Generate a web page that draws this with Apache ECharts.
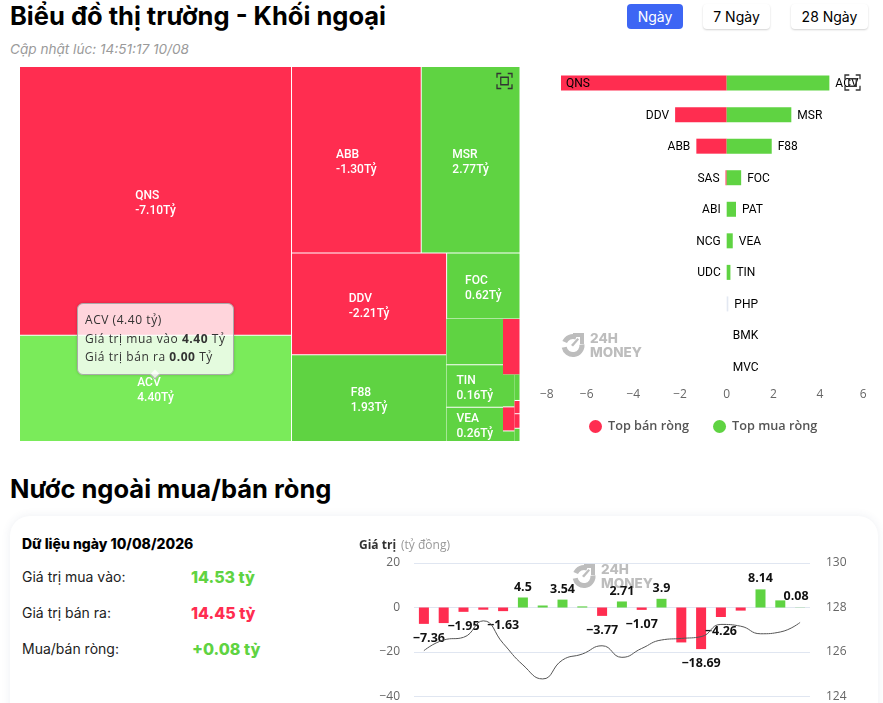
<!DOCTYPE html>
<html lang="vi"><head><meta charset="utf-8">
<style>
html,body{margin:0;padding:0;width:883px;height:703px;overflow:hidden;background:#fff;font-family:Inter,sans-serif;color:#000}
.abs{position:absolute}
h1{position:absolute;margin:0;font:700 25.5px/32px Inter,sans-serif;left:10px;white-space:nowrap}
.btn{position:absolute;top:4px;height:25px;line-height:25px;text-align:center;font-size:14px;border-radius:4px;background:#fff;box-shadow:0 1px 2px rgba(0,0,0,.18);box-sizing:border-box}
.btn.on{background:#3d66f4;color:#fff;box-shadow:none}
.card{position:absolute;left:10px;top:516px;width:868px;height:300px;border-radius:20px;background:#fff;box-shadow:0 0 10px rgba(60,80,120,.09)}
.row{position:absolute;left:22px;font-size:14px;color:#222;line-height:18px}
.val{position:absolute;font-size:16px;font-weight:800;line-height:20px}
</style></head>
<body>
<h1 style="top:0">Biểu đồ thị trường - Khối ngoại</h1>
<div class="abs" style="left:10px;top:40px;font-size:13.6px;font-style:italic;color:#9a9a9a;line-height:18px">Cập nhật lúc: 14:51:17 10/08</div>
<div class="btn on" style="left:627px;width:56px">Ngày</div>
<div class="btn" style="left:703px;width:67px">7 Ngày</div>
<div class="btn" style="left:791px;width:77px">28 Ngày</div>
<div id="tree" class="abs" style="left:20px;top:67px;width:500px;height:375px"></div>
<div id="bars" class="abs" style="left:530px;top:60px;width:353px;height:390px"></div>
<h1 style="top:473px">Nước ngoài mua/bán ròng</h1>
<div class="card"></div>
<div class="abs" style="left:22px;top:535px;font-size:14px;font-weight:800;line-height:18px">Dữ liệu ngày 10/08/2026</div>
<div class="row" style="top:568px">Giá trị mua vào:</div>
<div class="val" style="left:191px;top:567px;color:#5fd342">14.53 tỷ</div>
<div class="row" style="top:604px">Giá trị bán ra:</div>
<div class="val" style="left:191px;top:603px;color:#ff2d50">14.45 tỷ</div>
<div class="row" style="top:640px">Mua/bán ròng:</div>
<div class="val" style="left:192px;top:639px;color:#5fd342">+0.08 tỷ</div>
<div id="flow" class="abs" style="left:350px;top:530px;width:530px;height:200px"></div>
<script src="https://cdn.jsdelivr.net/npm/echarts@6/dist/echarts.min.js"></script>
<script>
// ---- Treemap data: size = gross traded value (tỷ), net = net value shown in the label
const treeNames = ['QNS','ACV','ABB','MSR','DDV','F88','FOC','rest'];
const treeSizes = [11.15,4.41,3.69,2.81,2.41,2.05,0.74,1.37];
const treeNets  = [-7.10,4.40,-1.30,2.77,-2.21,1.93,0.62,null];
const col1Names = ['PAT','TIN','VEA'];
const col1Sizes = [0.39,0.36,0.29];
const col1Nets  = [null,0.16,0.26];
const col2Names = ['SAS'];
const col2Sizes = [0.143];
const col2Nets  = [-0.05];
const col3Names = ['PHP','ABI','BMK'];
const col3Sizes = [0.056,0.041,0.018];
const col3Nets  = [0.07,-0.01,0.01];
const col4Names = ['MVC','NCG','UDC','KHA'];
const col4Sizes = [0.020,0.010,0.011,0.010];
const col4Nets  = [0.01,-0.01,-0.01,0.01];
// ---- Diverging bars
const sellNames = ['QNS','DDV','ABB','SAS','ABI','NCG','UDC','','',''];
const sellVals  = [-7.10,-2.21,-1.30,-0.05,0,0,0,0,0,0];
const buyNames  = ['ACV','MSR','F88','FOC','PAT','VEA','TIN','PHP','BMK','MVC'];
const buyVals   = [4.40,2.77,1.93,0.62,0.40,0.26,0.16,0.07,0,0];
// ---- Net flow chart
const flowDays = ['1','2','3','4','5','6','7','8','9','10','11','12','13','14','15','16','17','18','19','20'];
const flowNet = [-7.36,-7.0,-1.95,-1.0,-1.63,4.5,0.9,3.54,0.5,-3.77,2.71,-1.07,3.9,-15.7,-18.69,-4.26,-1.4,8.14,3.2,0.08];
const flowLabelled = [0,2,4,5,7,9,10,11,12,14,15,17,19];
const flowPrice = [126.06,126.54,126.66,127.4,126.39,125.42,124.79,125.64,125.91,126.28,125.76,126.16,126.54,126.61,126.69,127.24,127.16,126.82,126.9,127.33];

const RED='#ff2d50', GREEN='#5fd342', HOVER='#7aeb5a';
const LABEL_FONT='Roboto, sans-serif';
const FOCUS_ICON='path://M1,5 V1 H5 M11,1 H15 V5 M15,11 V15 H11 M5,15 H1 V11 M4.5,4.5 H11.5 V11.5 H4.5 Z';
const minusAxis=v=>String(v).replace('-','−');

const measure=document.createElement('canvas').getContext('2d');
measure.font='500 12px '+LABEL_FONT;
function cellLabel(name,net,labelled){
  if(!labelled||net==null) return {show:false};
  const line2=net.toFixed(2)+'Tỷ';
  const w=Math.max(measure.measureText(name).width,measure.measureText(line2).width);
  return {show:true,formatter:name+'\n'+line2,align:'left',verticalAlign:'top',offset:[-w/2,-12.5],
    color:'#fff',fontSize:12,lineHeight:15,fontFamily:LABEL_FONT,fontWeight:500};
}
function cell(name,size,net,labelled){
  const hidden = name==='rest';
  return {name:name,value:size,net:net,
    itemStyle:{color:hidden?'rgba(0,0,0,0)':(name==='ACV'?HOVER:(net<0?RED:GREEN))},
    label:cellLabel(name,net,labelled)};
}
const baseTree={type:'treemap',roam:false,nodeClick:false,breadcrumb:{show:false},sort:false,
  levels:[{itemStyle:{gapWidth:1,borderWidth:0}}],visibleMin:1,
  label:{show:true,position:'inside',padding:0,overflow:'none'}};
function build(names,sizes,nets,labelled){return names.map((n,i)=>cell(n,sizes[i],nets[i],labelled));}
const tree=echarts.init(document.getElementById('tree'));
tree.setOption({animation:false,
  tooltip:{trigger:'item',position:'top',alwaysShowContent:true,transitionDuration:0,
    backgroundColor:'rgba(255,255,255,0.8)',borderColor:'#aaa',borderWidth:1,padding:[7,7],
    textStyle:{color:'#333',fontSize:12,fontFamily:'"Open Sans",sans-serif',lineHeight:18},
    extraCssText:'border-radius:6px;letter-spacing:.55px;box-shadow:0 0 3px rgba(0,0,0,.2);line-height:18.5px;margin-top:49px',
    formatter:p=>p.name==='ACV'?'ACV (4.40 tỷ)<br>Giá trị mua vào <b>4.40</b> Tỷ<br>Giá trị bán ra <b>0.00</b> Tỷ':''},
  toolbox:{right:-9.5,top:-11,itemSize:15,iconStyle:{borderColor:'#333',borderWidth:1.3},feature:{myFocus:{show:true,title:'',icon:FOCUS_ICON,onclick:function(){}}}},
  series:[
   Object.assign({},baseTree,{left:0,top:0,width:499.5,height:374,data:build(treeNames,treeSizes,treeNets,true)}),
   Object.assign({},baseTree,{left:426.5,top:252,width:56.5,height:122,squareRatio:0.01,silent:true,tooltip:{show:false},data:build(col1Names,col1Sizes,col1Nets,true)}),
   Object.assign({},baseTree,{left:483,top:252,width:16.5,height:55.5,squareRatio:0.01,silent:true,tooltip:{show:false},data:build(col2Names,col2Sizes,col2Nets,false)}),
   Object.assign({},baseTree,{left:483,top:307.5,width:11.5,height:66.5,squareRatio:0.01,silent:true,tooltip:{show:false},data:build(col3Names,col3Sizes,col3Nets,false)}),
   Object.assign({},baseTree,{left:494.5,top:307.5,width:5,height:66.5,squareRatio:0.01,silent:true,tooltip:{show:false},data:build(col4Names,col4Sizes,col4Nets,false)})
  ]});
tree.dispatchAction({type:'showTip',seriesIndex:0,dataIndex:2});

// Watermark as chart graphic
function watermark(x,y){
  const gray='#bdbdbd';
  return {type:'group',x:x,y:y,silent:true,z:0,children:[
    {type:'sector',shape:{cx:11,cy:13.5,r0:6.5,r:11.5,startAngle:-2.75,endAngle:-1.2},style:{fill:gray}},
    {type:'sector',shape:{cx:11,cy:13.5,r0:6.5,r:11.5,startAngle:-0.1,endAngle:2.95},style:{fill:gray}},
    {type:'polygon',shape:{points:[[11,1],[22,1],[22,12],[18,12],[18,5],[11,5]]},style:{fill:gray}},
    {type:'polygon',shape:{points:[[15.5,6],[17,7.5],[11,14.5],[9,13]]},style:{fill:gray}},
    {type:'text',x:28,y:0,style:{text:'24H',font:'800 13.5px Inter, sans-serif',fill:gray,letterSpacing:.6}},
    {type:'text',x:28,y:14,style:{text:'MONEY',font:'800 13.5px Inter, sans-serif',fill:gray,letterSpacing:.4}}
  ]};
}
const bars=echarts.init(document.getElementById('bars'));
bars.setOption({animation:false,
  graphic:[watermark(32,272)],
  toolbox:{right:5.5,top:-2.5,itemSize:15,iconStyle:{borderColor:'#333',borderWidth:1.3},feature:{myFocus:{show:true,title:'',icon:FOCUS_ICON,onclick:function(){}}}},
  legend:{left:54,top:355,itemWidth:13,itemHeight:13,itemGap:24,icon:'circle',
    textStyle:{fontFamily:'"Open Sans",sans-serif',fontSize:12.7,fontWeight:600,color:'#555',padding:[0,0,0,1]},
    data:['Top bán ròng','Top mua ròng']},
  grid:{left:10,top:7.3,width:326.7,height:315.5},
  xAxis:{type:'value',min:-8,max:6,interval:2,splitLine:{show:false},axisLine:{show:false},axisTick:{show:false},
    axisLabel:{color:'#666',fontSize:12,margin:6,alignMinLabel:'left',alignMaxLabel:'right',fontFamily:'"Open Sans",sans-serif',formatter:minusAxis}},
  yAxis:{type:'category',inverse:true,show:false,data:buyNames},
  series:[
   {name:'Top bán ròng',type:'bar',stack:'n',barWidth:15,itemStyle:{color:RED},
    label:{show:true,position:'left',distance:6,offset:[0,1],color:'#000',fontSize:12,fontFamily:LABEL_FONT,formatter:p=>sellNames[p.dataIndex]},
    data:sellVals.map((v,i)=>i===0?{value:v,label:{position:'insideLeft',distance:5}}:v)},
   {name:'Top mua ròng',type:'bar',stack:'n',barWidth:15,itemStyle:{color:GREEN},
    label:{show:true,position:'right',distance:6,offset:[0,1],color:'#000',fontSize:12,fontFamily:LABEL_FONT,formatter:p=>buyNames[p.dataIndex]},
    data:buyVals.map(v=>(v>0&&v<0.1)?{value:v,itemStyle:{color:'#e3e8f2'}}:v)}
  ]});

const flow=echarts.init(document.getElementById('flow'));
const labelOffsets={0:[5,0],19:[-4,0]};
flow.setOption({animation:false,
  graphic:[watermark(223,33)],
  title:{left:9,top:7,padding:0,text:'{a|Giá trị} {b|(tỷ đồng)}',textStyle:{rich:{
    a:{fontSize:12,fontWeight:700,color:'#333',fontFamily:'"Open Sans",sans-serif'},
    b:{fontSize:12,fontWeight:400,color:'#999',fontFamily:'"Open Sans",sans-serif'}}}},
  grid:{left:64,top:33,width:396,height:133.5},
  xAxis:{type:'category',data:flowDays,axisLine:{show:false},axisTick:{show:false},axisLabel:{show:false}},
  yAxis:[
   {type:'value',min:-40,max:20,interval:20,axisLabel:{color:'#666',fontSize:12,margin:14,fontFamily:'"Open Sans",sans-serif',formatter:minusAxis},splitLine:{lineStyle:{color:'#e0e6f1'}}},
   {type:'value',min:124,max:130,interval:2,position:'right',axisLabel:{color:'#666',fontSize:12,margin:16,fontFamily:'"Open Sans",sans-serif'},splitLine:{show:false}}],
  series:[
   {type:'bar',barWidth:10,z:2,
    data:flowNet.map((v,i)=>{
      const lab=flowLabelled.indexOf(i)>=0;
      return {value:v,itemStyle:{color:v<0?RED:GREEN},
        label:{show:lab,position:v<0?'bottom':'top',distance:v<0?8:4,offset:labelOffsets[i]||[0,0],color:'#111',fontSize:12.5,fontWeight:700,fontFamily:'"Open Sans",sans-serif',
          formatter:String(v).replace('-','−')}};
    })},
   {type:'line',yAxisIndex:1,smooth:true,showSymbol:false,z:3,lineStyle:{color:'#555',width:1},data:flowPrice}
  ]});
</script>
</body></html>
